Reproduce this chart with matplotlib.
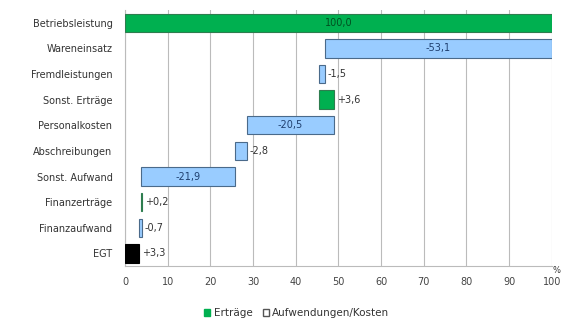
import numpy as np
import matplotlib.pyplot as plt
from matplotlib.patches import Patch

categories = ["Betriebsleistung", "Wareneinsatz", "Fremdleistungen", "Sonst. Erträge",
              "Personalkosten", "Abschreibungen", "Sonst. Aufwand", "Finanzerträge",
              "Finanzaufwand", "EGT"]
changes = [100.0, -53.1, -1.5, 3.6, -20.5, -2.8, -21.9, 0.2, -0.7, 3.3]
kinds = ["ertrag", "kosten", "kosten", "ertrag", "kosten", "kosten", "kosten",
         "ertrag", "kosten", "total"]

green = "#00B050"
blue = "#99CCFF"

# running total for waterfall
starts = []
level = 0.0
for i, v in enumerate(changes):
    if kinds[i] == "total":
        starts.append(0.0)
    elif v >= 0:
        starts.append(level)
        level += v
    else:
        level += v
        starts.append(level)

fig = plt.figure(figsize=(5.63, 3.23), dpi=100)
ax = fig.add_axes([0.222, 0.176, 0.758, 0.793])

y = np.arange(len(categories))
for i, v in enumerate(changes):
    if kinds[i] == "ertrag":
        fc, ec = green, "#2E7D4F"
    elif kinds[i] == "total":
        fc, ec = "black", "black"
    else:
        fc, ec = blue, "#4A6A8A"
    ax.barh(y[i], abs(v), left=starts[i], height=0.72, color=fc, edgecolor=ec,
            linewidth=0.8, zorder=3)
    txt = f"{v:.1f}".replace(".", ",")
    if i > 0 and v > 0:
        txt = "+" + txt
    if abs(v) > 8:
        tc = "#005020" if kinds[i] == "ertrag" else "#1F3F6F"
        ax.text(starts[i] + abs(v) / 2, y[i], txt, ha="center", va="center",
                fontsize=7, color=tc, zorder=4)
    else:
        ax.text(starts[i] + abs(v) + 0.6, y[i], txt, ha="left", va="center",
                fontsize=7, color="#333333", zorder=4)

ax.set_xlim(0, 100)
ax.set_ylim(len(categories) - 0.5, -0.5)
ax.set_xticks(np.arange(0, 101, 10))
ax.set_yticks(y)
ax.set_yticklabels(categories)
ax.tick_params(axis="both", labelsize=7, colors="#333333", length=0)
ax.tick_params(axis="x", pad=8, labelcolor="#444444")
ax.tick_params(axis="y", pad=9)
ax.grid(axis="x", color="#BBBBBB", linewidth=0.8, zorder=0)
for s in ["top", "right"]:
    ax.spines[s].set_visible(False)
ax.spines["left"].set_color("#BBBBBB")
ax.spines["bottom"].set_color("#BBBBBB")
ax.text(100.2, len(categories) - 0.5, "%", fontsize=6, color="#333333",
        ha="left", va="top")

handles = [Patch(facecolor=green, edgecolor=green, label="Erträge"),
           Patch(facecolor="white", edgecolor="#555555", label="Aufwendungen/Kosten")]
fig.legend(handles=handles, loc="center", bbox_to_anchor=(0.527, 0.03), ncol=2,
           frameon=False, fontsize=7.5, handlelength=0.6, handleheight=0.6,
           handletextpad=0.3, columnspacing=1.0, labelcolor="#333333")

fig.savefig("out.png", dpi=100)
